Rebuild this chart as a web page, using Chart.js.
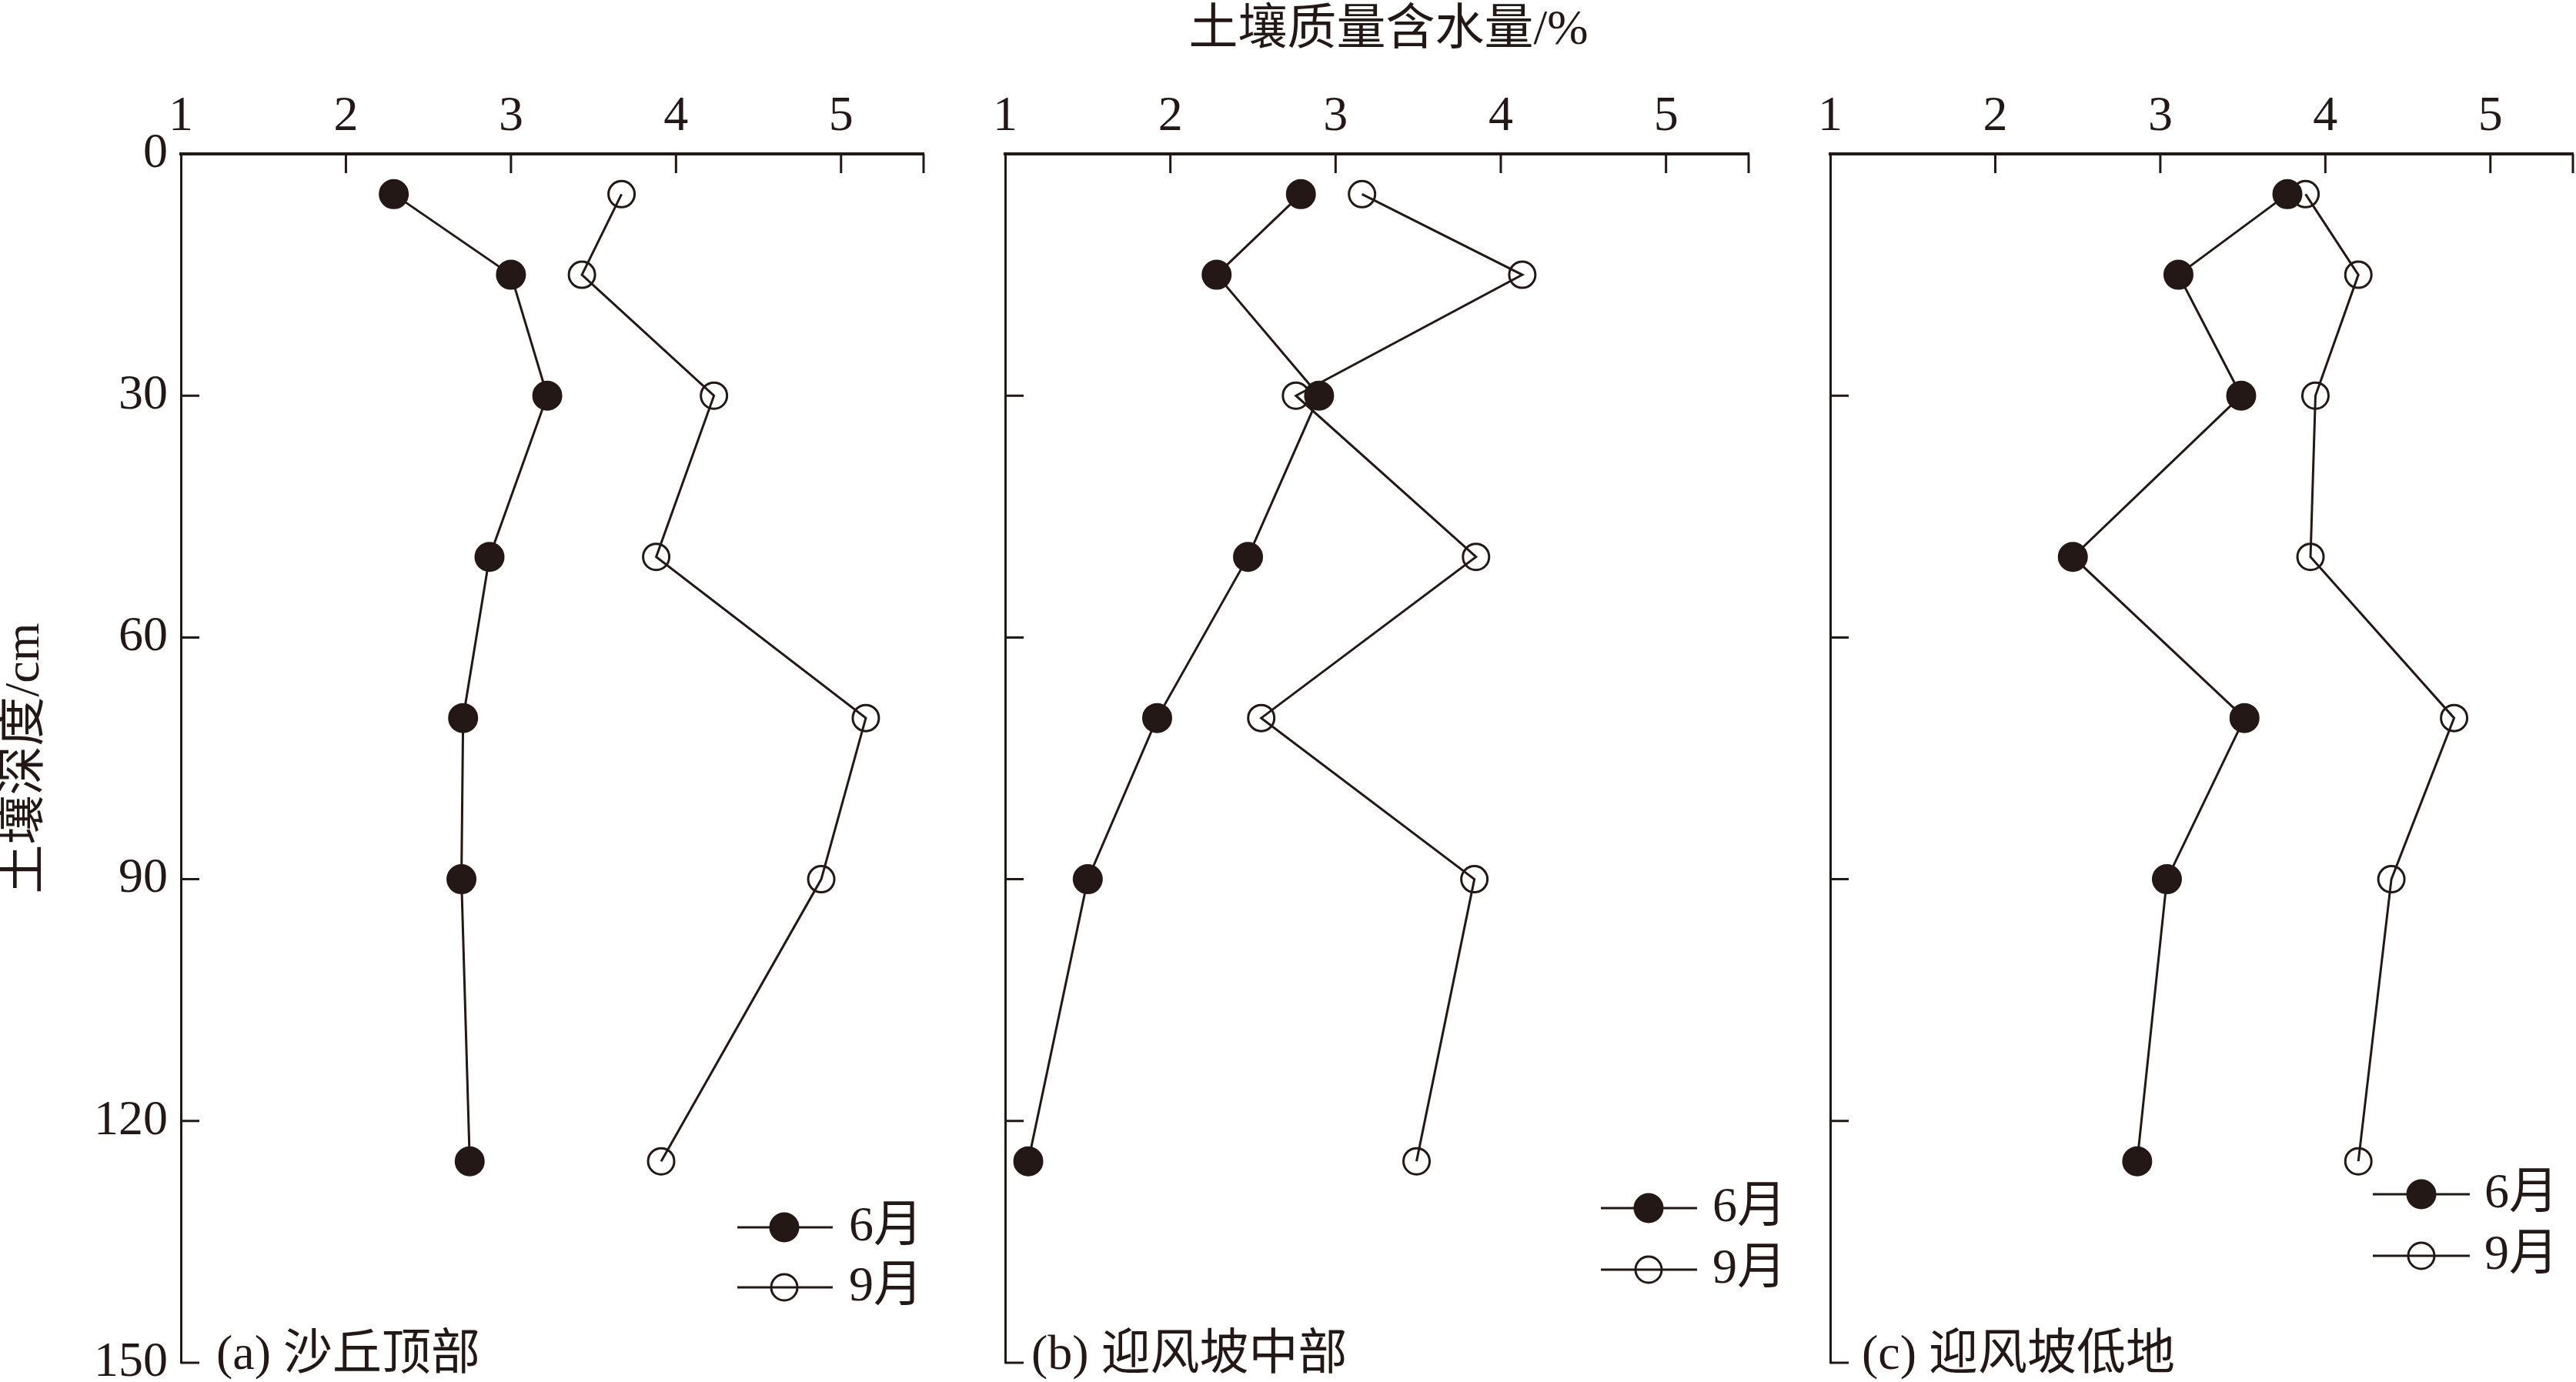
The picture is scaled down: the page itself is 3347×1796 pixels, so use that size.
<!DOCTYPE html>
<html>
<head>
<meta charset="utf-8">
<script src="https://cdn.jsdelivr.net/npm/chart.js@4.4.1/dist/chart.umd.min.js"></script>
<style>
html, body { margin:0; padding:0; background:#ffffff; width:3347px; height:1796px; overflow:hidden; }
canvas { position:absolute; top:0; }
#xtitle { position:absolute; left:1804px; top:4px; transform:translateX(-50%); font-family:'Liberation Serif','Noto Sans CJK SC',serif; font-size:64px; line-height:64px; color:#231815; white-space:nowrap; }
</style>
</head>
<body>
<div id="xtitle"></div>
<canvas id="ca" width="1240" height="1860" style="left:0px;width:1240px;height:1860px"></canvas>
<canvas id="cb" width="1060" height="1860" style="left:1250px;width:1060px;height:1860px"></canvas>
<canvas id="cc" width="1057" height="1860" style="left:2330px;width:1057px;height:1860px"></canvas>
<script>
// ---------- data ----------
const depths = [5, 15, 30, 50, 70, 90, 125];          // 土壤深度/cm
const juneA  = [2.29, 3.00, 3.22, 2.87, 2.71, 2.70, 2.75];
const septA  = [3.67, 3.43, 4.23, 3.88, 5.15, 4.88, 3.91];
const juneB  = [2.79, 2.28, 2.90, 2.47, 1.92, 1.50, 1.14];
const septB  = [3.16, 4.13, 2.76, 3.85, 2.55, 3.84, 3.49];
const juneC  = [3.77, 3.11, 3.49, 2.47, 3.51, 3.04, 2.86];
const septC  = [3.88, 4.20, 3.94, 3.91, 4.78, 4.40, 4.20];
const xTicks = [1, 2, 3, 4, 5];
const yTicks = [0, 30, 60, 90, 120, 150];
const xMin = 1, xMax = 5.5, yMin = 0, yMax = 150;
const seriesNames = ['6月', '9月'];
const panelLabels = ['(a) 沙丘顶部', '(b) 迎风坡中部', '(c) 迎风坡低地'];
const xTitle = '土壤质量含水量/%';
const yTitle = '土壤深度/cm';

// ---------- style ----------
const INK = '#231815';
const FAMILY = "'Liberation Serif', 'Noto Sans CJK SC', serif";
const FONT = "64px " + FAMILY;
document.getElementById('xtitle').textContent = xTitle;

const pts = vals => vals.map((v, i) => ({ x: v, y: depths[i] }));

const deco = {
  id: 'deco',
  afterDraw(chart, args, o) {
    const ctx = chart.ctx, ca = chart.chartArea;
    const xs = chart.scales.x, ys = chart.scales.y;
    ctx.save();
    ctx.strokeStyle = INK;
    ctx.lineWidth = 3;
    ctx.beginPath();
    xs.ticks.forEach(t => {
      if (t.value === xMin) return;
      const p = xs.getPixelForValue(t.value);
      ctx.moveTo(p, ca.top); ctx.lineTo(p, ca.top + 25);
    });
    ys.ticks.forEach(t => {
      if (t.value === yMin) return;
      const p = ys.getPixelForValue(t.value);
      ctx.moveTo(ca.left, p); ctx.lineTo(ca.left + 24, p);
    });
    ctx.stroke();
    // panel label
    ctx.fillStyle = INK;
    ctx.font = FONT;
    ctx.textBaseline = 'middle';
    ctx.textAlign = 'left';
    ctx.fillText(o.label, ca.left + o.labelDX, ca.bottom - 9);
    // legend
    chart.data.datasets.forEach((ds, i) => {
      const y = ca.bottom + o.rowDY[i];
      ctx.strokeStyle = ds.borderColor;
      ctx.lineWidth = 3;
      ctx.beginPath();
      ctx.moveTo(ca.left + o.lineDX[0], y);
      ctx.lineTo(ca.left + o.lineDX[1], y);
      ctx.stroke();
      ctx.beginPath();
      ctx.arc(ca.left + o.markerDX, y, ds.pointRadius, 0, Math.PI * 2);
      if (ds.pointBackgroundColor !== 'rgba(0,0,0,0)') {
        ctx.fillStyle = ds.pointBackgroundColor;
        ctx.fill();
      }
      ctx.lineWidth = ds.pointBorderWidth;
      ctx.stroke();
      ctx.fillStyle = INK;
      ctx.fillText(ds.label, ca.left + o.textDX, y);
    });
    ctx.restore();
  }
};

function makePanel(id, june, sept, cfg) {
  const ctx = document.getElementById(id).getContext('2d');
  return new Chart(ctx, {
    type: 'scatter',
    data: {
      datasets: [
        { label: seriesNames[0], data: pts(june), showLine: true, borderColor: INK, borderWidth: 3,
          pointRadius: 18, pointBorderWidth: 3, pointBackgroundColor: INK, pointBorderColor: INK, clip: false },
        { label: seriesNames[1], data: pts(sept), showLine: true, borderColor: INK, borderWidth: 3,
          pointRadius: 17, pointBorderWidth: 3, pointBackgroundColor: 'rgba(0,0,0,0)', pointBorderColor: INK, clip: false }
      ]
    },
    options: {
      responsive: false,
      animation: false,
      devicePixelRatio: 1,
      layout: { padding: { left: 0, top: 0, right: cfg.padRight, bottom: 89 } },
      plugins: { legend: { display: false }, tooltip: { enabled: false }, deco: cfg.deco },
      scales: {
        x: {
          type: 'linear', position: 'top', min: xMin, max: xMax,
          afterBuildTicks: s => { s.ticks = xTicks.concat([xMax]).map(v => ({ value: v })); },
          afterFit: s => { s.height = 200; },
          ticks: { color: INK, font: { family: FAMILY, size: 64, lineHeight: 1.2 }, padding: 9, maxRotation: 0, autoSkip: false,
                   callback: v => (xTicks.includes(v) ? String(v) : '') },
          grid: { display: true, drawOnChartArea: false, drawTicks: false },
          border: { display: true, color: INK, width: 4 }
        },
        y: {
          type: 'linear', position: 'left', reverse: true, min: yMin, max: yMax,
          afterBuildTicks: s => { s.ticks = yTicks.map(v => ({ value: v })); },
          afterFit: s => { s.width = cfg.yWidth; },
          ticks: { display: cfg.showY, color: INK, font: { family: FAMILY, size: 64, lineHeight: 1.2 }, padding: 17, autoSkip: false },
          grid: { display: true, drawOnChartArea: false, drawTicks: false },
          border: { display: true, color: INK, width: 3 },
          title: { display: cfg.showY, text: yTitle, color: INK, font: { family: FAMILY, size: 64, lineHeight: 1 }, padding: { top: 1, bottom: 0 } }
        }
      }
    },
    plugins: [deco]
  });
}

makePanel('ca', juneA, septA, { padRight: 40, yWidth: 235, showY: true,
  deco: { label: panelLabels[0], labelDX: 46, lineDX: [723, 847], markerDX: 784, textDX: 868, rowDY: [-176, -98] } });
makePanel('cb', juneB, septB, { padRight: 38, yWidth: 56, showY: false,
  deco: { label: panelLabels[1], labelDX: 34, lineDX: [774, 899], markerDX: 836, textDX: 919, rowDY: [-201, -121] } });
makePanel('cc', juneC, septC, { padRight: 44, yWidth: 48, showY: false,
  deco: { label: panelLabels[2], labelDX: 41, lineDX: [705, 831], markerDX: 768, textDX: 850, rowDY: [-219, -139] } });
</script>
</body>
</html>
